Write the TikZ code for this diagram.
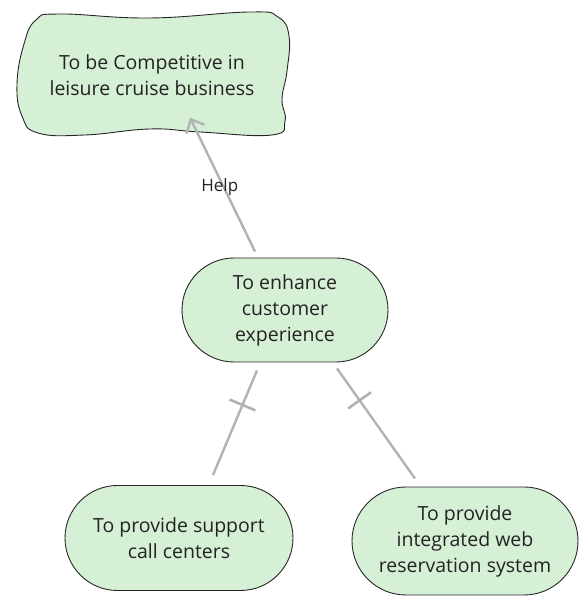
\documentclass[tikz,border=0pt]{standalone}
\usepackage{fontspec}
\setmainfont{Open Sans}
\usetikzlibrary{arrows.meta,shapes.misc,decorations.markings}
\definecolor{goalfill}{RGB}{214,240,214}
\definecolor{linkgray}{RGB}{178,178,178}
\definecolor{txt}{RGB}{35,35,35}
\tikzset{
  goal/.style={draw=black!85, line width=0.9pt, fill=goalfill, rounded rectangle,
    inner sep=0pt, align=center, text=txt,
    font=\fontsize{19.5}{26}\selectfont},
  plain/.style={inner sep=0pt, align=center, text=txt,
    font=\fontsize{19.5}{26}\selectfont},
  link/.style={draw=linkgray, line width=2.4pt},
  helplink/.style={link, -{Straight Barb[length=11pt,width=20pt,line width=2.4pt]}},
  bar/.style={postaction={decorate}, decoration={markings,
    mark=at position #1 with {\draw[linkgray, line width=2.6pt] (0,-14pt) -- (0,14pt);}}}
}
\begin{document}
\begin{tikzpicture}[x=1pt,y=1pt]
\useasboundingbox (0,0) rectangle (584,596);
% cloud shape
\path[draw=black!85, line width=0.9pt, fill=goalfill]
  plot[smooth cycle, tension=0.75] coordinates {
  (60,582) (150,578) (250,584) (278,579) (289,560) (287,525) (282,497)
  (285,475) (272,461) (200,464) (150,467) (85,461) (38,463) (22,480)
  (17,512) (24,552) (36,576)};
\node[plain] (top) at (152,521) {To be Competitive in\\leisure cruise business};
\node[goal, minimum width=206pt, minimum height=104pt] (mid) at (285,286)
  {To enhance\\customer\\experience};
\node[goal, minimum width=228pt, minimum height=105pt] (bl) at (179,58)
  {To provide support\\call centers};
\node[goal, minimum width=226pt, minimum height=108pt] (br) at (465,55)
  {To provide\\integrated web\\reservation system};
\coordinate (topb) at (top.south);
\draw[helplink] ([xshift=-30pt,yshift=6pt]mid.north) --
  node[pos=0.48, plain, font=\fontsize{17}{20}\selectfont, xshift=-4pt] {Help}
  ([xshift=38pt,yshift=-22pt]topb);
\draw[link, bar=0.33] ([xshift=-28pt,yshift=-8pt]mid.south) -- ([xshift=34pt,yshift=10pt]bl.north);
\draw[link, bar=0.29] ([xshift=52pt,yshift=-6pt]mid.south) -- ([xshift=-50pt,yshift=8pt]br.north);
\end{tikzpicture}
\end{document}
